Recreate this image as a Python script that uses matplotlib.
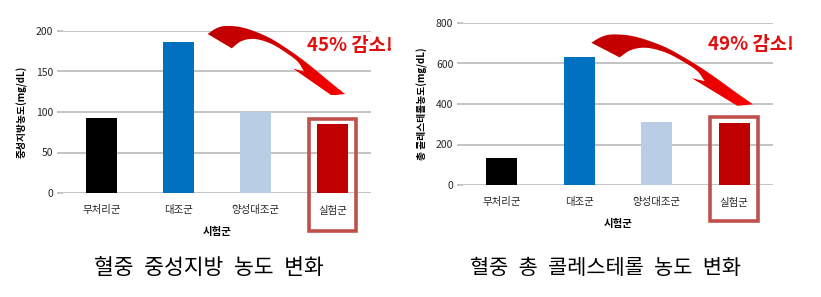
import numpy as np
import matplotlib
matplotlib.use("Agg")
import matplotlib.pyplot as plt
from matplotlib.path import Path
from matplotlib.patches import PathPatch, Rectangle
from matplotlib.transforms import blended_transform_factory
from matplotlib.colors import LinearSegmentedColormap

plt.rcParams['font.family'] = ['Noto Sans CJK KR', 'DejaVu Sans']

# 데이터
groups = ['무처리군', '대조군', '양성대조군', '실험군']
colors = ['#000000', '#0070C0', '#B9CDE5', '#C00000']
tg = [93, 186, 100, 85]          # 중성지방 (mg/dL)
tc = [135, 630, 313, 308]        # 총 콜레스테롤 (mg/dL)
labels_pct = ['45% 감소!', '49% 감소!']
titles = ['혈중 중성지방 농도 변화', '혈중 총 콜레스테롤 농도 변화']

W, H = 821, 297
fig = plt.figure(figsize=(W / 100, H / 100), dpi=100)

def px_axes(x0, y0, x1, y1):
    return fig.add_axes([x0 / W, 1 - y1 / H, (x1 - x0) / W, (y1 - y0) / H])

grid_c = '#BFBFBF'

def draw_chart(ax, vals, ymax, ystep, ylabel, box_y):
    x = np.arange(len(groups))
    ax.bar(x, vals, width=0.4, color=colors, zorder=3)
    ax.set_xlim(-0.5, 3.5)
    ax.set_ylim(0, ymax)
    ax.set_yticks(np.arange(0, ymax + 1, ystep))
    ax.yaxis.grid(True, color=grid_c, lw=1.3, zorder=0)
    for s in ax.spines.values():
        s.set_visible(False)
    ax.set_xticks(x)
    ax.set_xticklabels(groups, fontsize=7.5, color='#262626')
    ax.tick_params(axis='x', length=0, pad=9)
    ax.tick_params(axis='y', length=4, color=grid_c, width=1.3, labelsize=7.5,
                   labelcolor='#262626', pad=3)
    ax.set_xlabel('시험군', fontsize=7.5, fontweight='bold', labelpad=8)
    ax.set_ylabel(ylabel, fontsize=7, fontweight='bold', labelpad=6)
    tr = blended_transform_factory(ax.transData, ax.transAxes)
    ax.add_patch(Rectangle((2.69, box_y[0]), 0.62, box_y[1] - box_y[0],
                           transform=tr, fill=False, ec='#C0504D', lw=2.6,
                           clip_on=False, zorder=5))

ax1 = px_axes(63, 31, 371, 193)
draw_chart(ax1, tg, 200, 50, '중성지방농도(mg/dL)', (-0.235, 0.457))
ax2 = px_axes(463, 23, 773, 185)
draw_chart(ax2, tc, 800, 200, '총 콜레스테롤농도(mg/dL)', (-0.222, 0.42))

# 곡선 화살표 모양 (왼쪽 화살표 기준 픽셀 윤곽)
upper = [(207.7, 34), (216, 28.5), (225, 26), (240, 27), (255, 31.5),
         (271.7, 39), (288.3, 49.5), (301.7, 59), (315, 69.5), (330, 82),
         (345, 94)]
head = [(331.7, 95.5), (293, 68.5), (304, 71.5)]
inner = [(304, 71.5), (298, 62), (288, 54), (271.7, 44), (255, 39),
         (241.7, 41), (231.7, 48.3)]

def smooth(pts, n=8):
    pts = np.asarray(pts, float)
    ext = np.vstack([2 * pts[0] - pts[1], pts, 2 * pts[-1] - pts[-2]])
    out = []
    for i in range(1, len(ext) - 2):
        p0, p1, p2, p3 = ext[i - 1], ext[i], ext[i + 1], ext[i + 2]
        for t in np.linspace(0, 1, n, endpoint=False):
            out.append(0.5 * ((2 * p1) + (-p0 + p2) * t
                              + (2 * p0 - 5 * p1 + 4 * p2 - p3) * t ** 2
                              + (-p0 + 3 * p1 - 3 * p2 + p3) * t ** 3))
    out.append(pts[-1])
    return np.array(out)

outline = np.vstack([smooth(upper), np.array(head), smooth(inner)[1:]])

def arrow_path(tail, sx, sy):
    base = np.array(upper[0])
    pts = np.array(tail) + (outline - base) * [sx, sy]
    pts[:, 1] = H - pts[:, 1]
    return Path(np.vstack([pts, pts[:1]]), closed=True), pts

ov = fig.add_axes([0, 0, 1, 1], facecolor='none')
ov.axis('off')
cmap = LinearSegmentedColormap.from_list('rr', ['#C00000', '#D00000', '#FF0000'])
grad = np.linspace(0, 1, 100).reshape(1, -1)

for tail, sx, sy in [((207.7, 34), 1.0, 1.0), ((591.3, 42.7), 1.178, 1.027)]:
    p, pts = arrow_path(tail, sx, sy)
    patch = PathPatch(p, fc='none', ec='none')
    ov.add_patch(patch)
    im = ov.imshow(grad, cmap=cmap,
                   extent=(pts[:, 0].min(), pts[:, 0].max(),
                           pts[:, 1].min(), pts[:, 1].max()),
                   aspect='auto', zorder=4)
    im.set_clip_path(patch)

ov.text(307, H - 45.5, labels_pct[0], fontsize=13.5, fontweight='bold',
        color='#E01010', va='center', ha='left')
ov.text(708, H - 44, labels_pct[1], fontsize=13.5, fontweight='bold',
        color='#E01010', va='center', ha='left')

ov.text(209, H - 268, titles[0].replace(' ', '\u2002'), fontsize=15.5,
        ha='center', va='center')
ov.text(605, H - 268, titles[1].replace(' ', '\u2002'), fontsize=15,
        ha='center', va='center')
ov.set_xlim(0, W)
ov.set_ylim(0, H)

fig.savefig('out.png', dpi=100)
